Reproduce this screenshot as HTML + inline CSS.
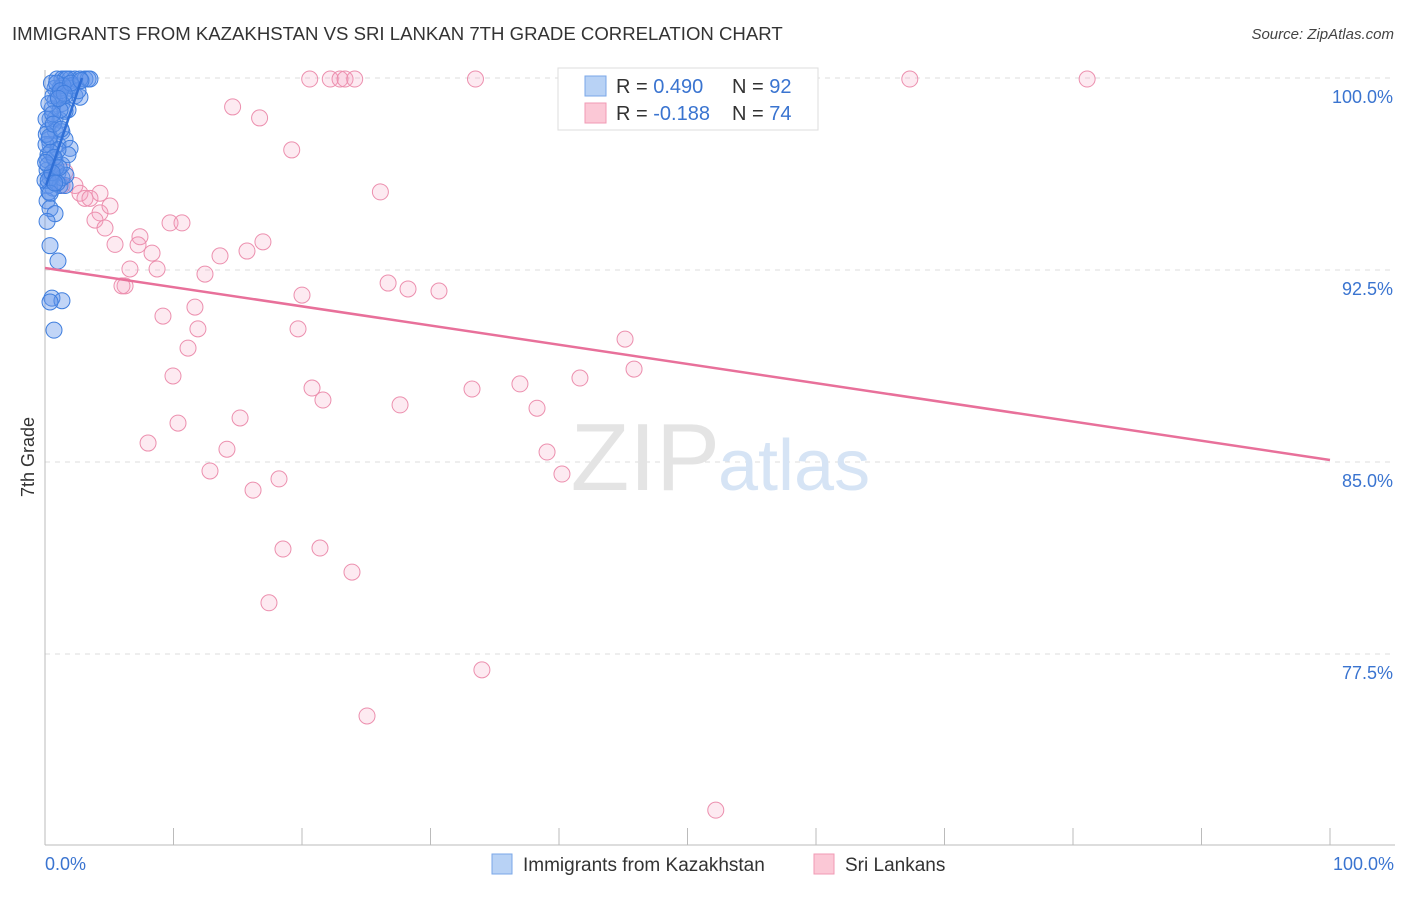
<!DOCTYPE html>
<html><head><meta charset="utf-8"><style>
body{margin:0;background:#fff;font-family:"Liberation Sans",sans-serif;}
svg text{font-family:"Liberation Sans",sans-serif;}
</style></head><body>
<svg width="1406" height="892" viewBox="0 0 1406 892">
<text x="12" y="40" font-size="18.6" fill="#333">IMMIGRANTS FROM KAZAKHSTAN VS SRI LANKAN 7TH GRADE CORRELATION CHART</text>
<text x="1394" y="39" font-size="15" fill="#444" text-anchor="end" font-style="italic">Source: ZipAtlas.com</text>
<g id="grid"></g>
<text x="720" y="490" font-size="96" fill="#e4e4e4" text-anchor="end" font-family="Liberation Serif">ZIP</text>
<text x="718" y="490" font-size="72" fill="#d6e4f5">atlas</text>
<text x="34" y="457" font-size="18" fill="#333" transform="rotate(-90 34 457)" text-anchor="middle">7th Grade</text>
<g id="pts"></g>
<g id="lines"></g>
<g>
<rect x="558" y="68" width="260" height="62" fill="#fff" stroke="#ddd"/>
<rect x="585" y="76" width="21" height="20" fill="#b8d2f5" stroke="#7aa7e8"/>
<rect x="585" y="103" width="21" height="20" fill="#fbc8d6" stroke="#f09ab4"/>
<text x="616" y="93" font-size="20" fill="#333">R = <tspan fill="#3a74d0">0.490</tspan><tspan x="732">N = </tspan><tspan fill="#3a74d0">92</tspan></text>
<text x="616" y="120" font-size="20" fill="#333">R = <tspan fill="#3a74d0">-0.188</tspan><tspan x="732">N = </tspan><tspan fill="#3a74d0">74</tspan></text>
</g>
<g>
<rect x="492" y="854" width="20" height="20" fill="#b8d2f5" stroke="#7aa7e8"/>
<text x="523" y="871" font-size="19" fill="#333">Immigrants from Kazakhstan</text>
<rect x="814" y="854" width="20" height="20" fill="#fbc8d6" stroke="#f09ab4"/>
<text x="845" y="871" font-size="19" fill="#333">Sri Lankans</text>
</g>
</svg>
<script>
const yTicks=[100,92.5,85,77.5];
const yTickLabels=["100.0%","92.5%","85.0%","77.5%"];
const xTickLabels=["0.0%","100.0%"];
const blueX=[0.93,1.32,1.56,1.95,2.33,3.11,3.35,3.5,1.71,2.72,0.78,1.17,1.95,1.56,2.33,2.72,0.78,1.32,1.79,0.39,0.78,1.17,1.56,0.23,0.78,1.32,0.39,1.01,1.56,1.95,0.23,0.78,1.32,1.79,0.16,0.54,1.01,0.23,0.62,1.17,1.56,0.16,0.39,0.78,0.16,0.39,1.01,0.54,1.32,0.39,0.7,0.16,0.31,0.54,1.01,2.1,2.57,1.4,0.62,1.01,0.31,1.32,1.63,0.39,0.86,0.08,0.08,1.17,0,0.23,0.5,0.9,1.2,0.3,0.6,2.0,2.8,1.5,0.1,0.45,0.7,1.1,0.25,0.55,0.95,0.35,0.65,1.25,0.05,0.4,0.75,1.05];
const blueY=[99.96,99.96,99.96,99.96,99.96,99.96,99.96,99.96,99.96,99.96,99.6,99.6,99.6,99.3,99.3,99.25,99.1,99.0,98.75,98.4,98.4,98.35,98.7,97.95,97.95,97.9,97.4,97.4,97.6,97.25,97.0,96.8,96.6,97.0,96.4,96.2,96.3,95.8,95.7,95.8,95.8,95.2,94.9,94.7,94.4,93.45,92.85,91.4,91.3,91.25,90.15,96.8,97.6,98.8,99.3,99.7,99.5,99.7,99.3,97.2,95.55,96.1,96.2,96.1,96.5,97.4,98.4,98.75,96.0,96.6,99.8,99.8,99.5,99.0,98.6,99.8,99.9,99.4,97.8,97.1,96.9,96.5,96.0,96.3,95.9,97.7,98.2,98.0,96.7,95.5,95.9,99.2];
const pinkX=[20.6,22.2,22.96,23.35,24.1,33.5,67.3,81.1,14.6,16.7,19.2,26.1,0.78,1.17,1.56,2.33,2.72,3.11,3.5,4.28,3.89,4.67,5.06,5.45,7.39,7.24,8.33,9.73,10.66,6.61,8.72,6.23,5.99,12.45,13.62,15.72,16.96,9.18,11.67,11.9,11.13,20.0,19.69,26.7,28.25,30.66,45.14,45.84,41.63,36.96,33.23,20.78,21.63,27.63,38.29,9.96,15.18,10.35,8.02,14.16,12.84,39.07,40.23,18.21,16.19,18.52,21.4,23.89,17.43,34.0,25.06,52.2,1.32,4.28];
const pinkY=[99.96,99.96,99.96,99.96,99.96,99.96,99.96,99.96,98.87,98.44,97.19,95.55,96.4,95.8,96.33,95.8,95.5,95.3,95.3,94.73,94.45,94.14,95.0,93.5,93.8,93.48,93.16,94.34,94.34,92.54,92.54,91.88,91.88,92.34,93.05,93.24,93.6,90.7,91.05,90.2,89.45,91.52,90.2,91.99,91.76,91.68,89.8,88.63,88.28,88.05,87.85,87.89,87.42,87.23,87.1,88.36,86.72,86.52,85.74,85.5,84.65,85.39,84.53,84.34,83.9,81.6,81.64,80.7,79.5,76.88,75.08,71.4,95.8,95.5];
const blueTrend=[[0.08,95.8],[2.88,100]];
const pinkTrend=[[0,92.58],[100,85.08]];
const NS="http://www.w3.org/2000/svg";
const X=v=>45+v*12.85, Y=v=>78+(100-v)*25.6;
function mk(t,a,p){const e=document.createElementNS(NS,t);for(const k in a)e.setAttribute(k,a[k]);p.appendChild(e);return e;}
const grid=document.getElementById('grid');
yTicks.forEach((t,i)=>{
 const l=mk('line',{x1:45,x2:1395,y1:Y(t),y2:Y(t),stroke:'#ddd','stroke-dasharray':'5,5'},grid);
 
 
 const tx=mk('text',{x:1393,y:Y(t)+25,'font-size':18,fill:'#3a74d0','text-anchor':'end'},grid);
 tx.textContent=yTickLabels[i];
 
 
});
const ax=mk('line',{x1:45,x2:1395,y1:845,y2:845,stroke:'#bbb'},grid);


const ay=mk('line',{x1:45,x2:45,y1:70,y2:845,stroke:'#bbb'},grid);


for(let i=0;i<=10;i++){const t=mk('line',{x1:X(i*10),x2:X(i*10),y1:828,y2:845,stroke:'#bbb'},grid);
 
 }
[[0,'start',45],[100,'end',1394]].forEach((d,i)=>{const t=mk('text',{x:d[2],y:870,'font-size':18,fill:'#3a74d0','text-anchor':d[1]},grid);t.textContent=xTickLabels[i];
 
 });
const pts=document.getElementById('pts');
pinkX.forEach((x,i)=>{const c=mk('circle',{cx:X(x),cy:Y(pinkY[i]),r:8,fill:'rgba(245,160,190,0.22)',stroke:'#ec8fae','stroke-width':1},pts);
 
 });
blueX.forEach((x,i)=>{const c=mk('circle',{cx:X(x),cy:Y(blueY[i]),r:8,fill:'rgba(100,150,235,0.4)',stroke:'#3f7ede','stroke-width':1},pts);
 
 });
const lines=document.getElementById('lines');
const pl=mk('line',{x1:X(pinkTrend[0][0]),y1:Y(pinkTrend[0][1]),x2:X(pinkTrend[1][0]),y2:Y(pinkTrend[1][1]),stroke:'#e8709a','stroke-width':2.5},lines);


const bl=mk('line',{x1:X(blueTrend[0][0]),y1:Y(blueTrend[0][1]),x2:X(blueTrend[1][0]),y2:Y(blueTrend[1][1]),stroke:'#2f6fd6','stroke-width':2.5},lines);


</script>
</body></html>
